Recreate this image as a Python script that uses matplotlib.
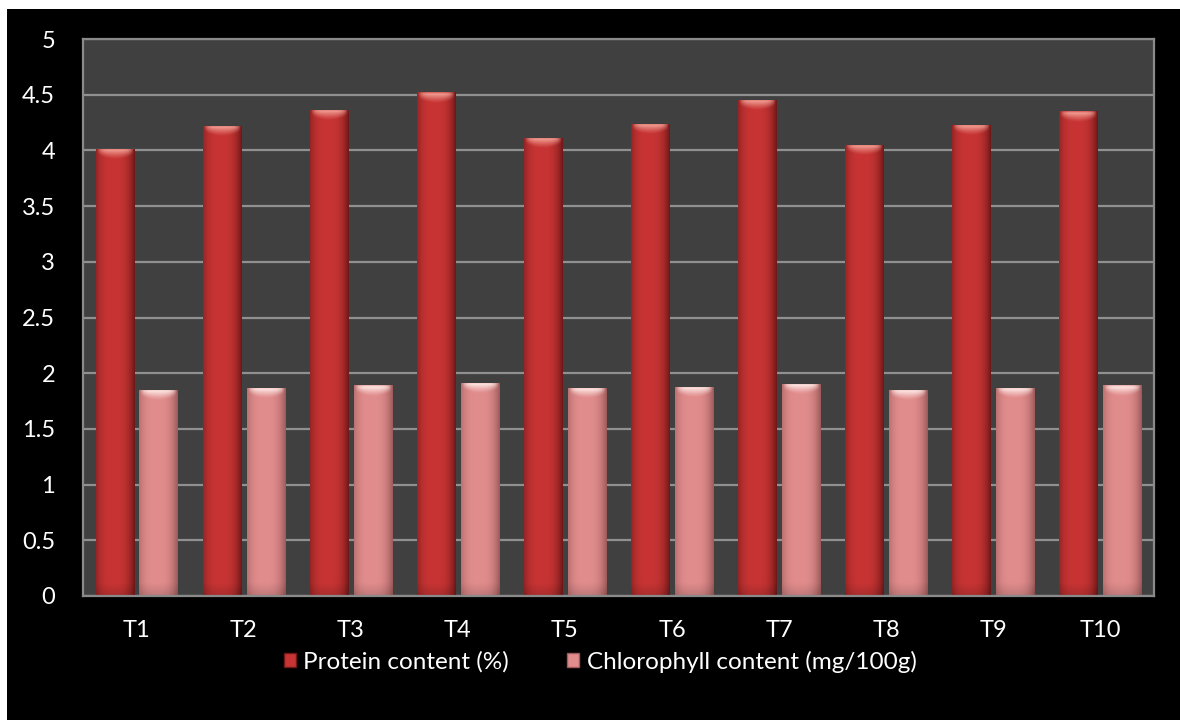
import numpy as np
import matplotlib.pyplot as plt
from matplotlib.patches import Patch, Rectangle
from matplotlib.colors import to_rgb

treatments = ["T1", "T2", "T3", "T4", "T5", "T6", "T7", "T8", "T9", "T10"]
protein = [4.01, 4.22, 4.36, 4.52, 4.11, 4.24, 4.45, 4.05, 4.23, 4.35]
chlorophyll = [1.85, 1.87, 1.89, 1.91, 1.87, 1.88, 1.90, 1.85, 1.87, 1.89]

series_names = ["Protein content (%)", "Chlorophyll content (mg/100g)"]
# edge / centre / shine colours for each series
protein_cols = ("#6e1818", "#c83434", "#f5a89c")
chloro_cols = ("#9c5a5a", "#e28d8d", "#fff0ec")

plt.rcParams['font.family'] = ['Lato', 'DejaVu Sans']

fig = plt.figure(figsize=(11.8, 7.2), dpi=100, facecolor="black")
# thin white strip along the top and left edges
fig.patches.append(Rectangle((0, 1 - 9 / 720), 1, 9 / 720, transform=fig.transFigure,
                             facecolor="white", edgecolor="none", zorder=0))
fig.patches.append(Rectangle((0, 0), 7 / 1180, 1, transform=fig.transFigure,
                             facecolor="white", edgecolor="none", zorder=0))

ax = fig.add_axes([83 / 1180, 124 / 720, 1071 / 1180, 557 / 720])
ax.set_facecolor("#404040")

x = np.arange(len(treatments))
w = 0.355
off = 0.205


def shade_bars(bars, cols):
    edge, mid, shine = (np.array(to_rgb(c)) for c in cols)
    n = 60
    t = np.linspace(0, 1, n)
    # cylinder-style profile, brightest a little left of centre
    prof = np.clip(1 - np.abs((t - 0.45) / 0.55) ** 3, 0, 1)
    body = edge[None, :] + (mid - edge)[None, :] * prof[:, None]
    for b in bars:
        x0, y0 = b.get_x(), b.get_y()
        bw, bh = b.get_width(), b.get_height()
        rows = max(int(bh * 110), 20)
        img = np.tile(body[None, :, :], (rows, 1, 1))
        # darker towards the foot
        img[-14:] *= np.linspace(1.0, 0.86, 14)[:, None, None]
        im = ax.imshow(img, extent=(x0, x0 + bw, y0, y0 + bh), aspect="auto",
                       interpolation="bilinear", zorder=2)
        im.set_clip_path(b)
        # glossy band at the top of the bar
        cap_h = 0.1
        cr = 30
        yy = np.linspace(0, 1, cr)[:, None]
        xx = np.linspace(-1, 1, n)[None, :]
        depth = 0.8 * (1 - 0.55 * xx ** 2)
        ay = np.where(yy < 0.15, 0.35 + 0.65 * yy / 0.15,
                      np.clip(1 - (yy - 0.15) / depth, 0, 1) ** 1.2)
        ax_ = np.clip(1 - np.abs(xx / 0.95) ** 5, 0, 1)
        cap = np.zeros((cr, n, 4))
        cap[..., :3] = shine
        cap[..., 3] = ay * ax_ * 0.9
        im2 = ax.imshow(cap, extent=(x0, x0 + bw, y0 + bh - cap_h, y0 + bh),
                        aspect="auto", interpolation="bilinear", zorder=3)
        im2.set_clip_path(b)
        b.set_facecolor("none")


b1 = ax.bar(x - off, protein, w, color=protein_cols[1], edgecolor="none", zorder=2)
b2 = ax.bar(x + off, chlorophyll, w, color=chloro_cols[1], edgecolor="none", zorder=2)
shade_bars(b1, protein_cols)
shade_bars(b2, chloro_cols)

ax.set_xlim(-0.5, len(treatments) - 0.5)
ax.set_ylim(0, 5)
ax.set_yticks(np.arange(0, 5.01, 0.5))
ax.set_yticklabels(["0", "0.5", "1", "1.5", "2", "2.5", "3", "3.5", "4", "4.5", "5"])
ax.set_xticks(x)
ax.set_xticklabels(treatments)
ax.tick_params(axis="both", length=0, colors="white", labelsize=17)
ax.tick_params(axis="y", pad=20)
ax.tick_params(axis="x", pad=17)
ax.yaxis.grid(True, color="#909090", linewidth=1.6)
ax.set_axisbelow(True)
for s in ax.spines.values():
    s.set_color("#8a8a8a")
    s.set_linewidth(1.6)

handles = [Patch(facecolor=protein_cols[1], edgecolor=protein_cols[0]),
           Patch(facecolor=chloro_cols[1], edgecolor=chloro_cols[0])]
fig.legend(handles, series_names, loc="center", bbox_to_anchor=(600 / 1180, 58 / 720),
           ncol=2, frameon=False, labelcolor="white", fontsize=17.5,
           handlelength=0.5, handleheight=0.5, handletextpad=0.3, columnspacing=2.4)

fig.savefig("out.png", dpi=100, facecolor="black")
